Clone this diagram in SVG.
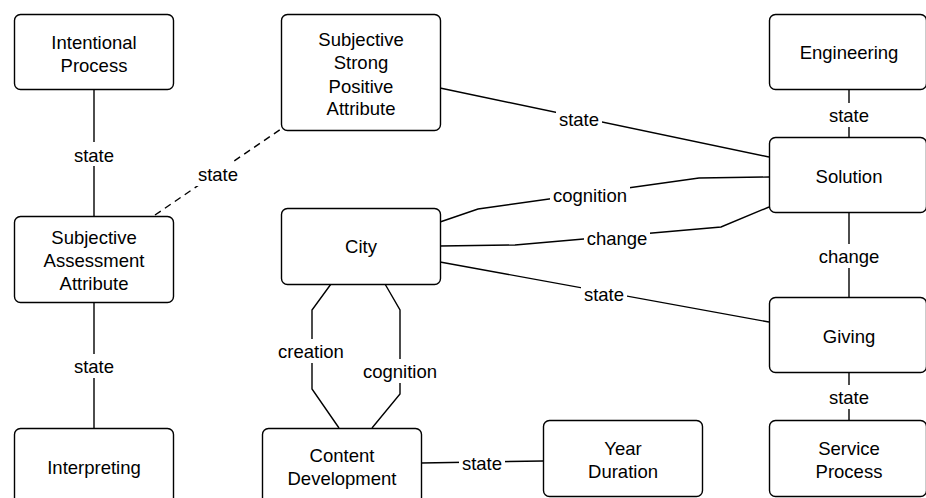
<svg xmlns="http://www.w3.org/2000/svg" width="926" height="498" viewBox="0 0 926 498">
<style>
.node rect{fill:#fff;stroke:#000;stroke-width:1.4}
text{font-family:"Liberation Sans",Arial,sans-serif;font-size:18.5px;fill:#000;text-anchor:middle}
.edge{fill:none;stroke:#000;stroke-width:1.4}
.dash{stroke-dasharray:7 5}
.lbl{fill:#fff;stroke:none}
</style>
<rect width="926" height="498" fill="#fff"/>
<g id="connectors">
  <line class="edge" x1="94" y1="89" x2="94" y2="216"/>
  <line class="edge dash" x1="155" y1="215" x2="281" y2="129"/>
  <line class="edge" x1="440" y1="88" x2="769" y2="157"/>
  <polyline class="edge" points="440,222 478,209 699,178 769,177"/>
  <polyline class="edge" points="440,246 515,245 721,227 769,207"/>
  <line class="edge" x1="440" y1="262" x2="769" y2="322"/>
  <line class="edge" x1="849" y1="89" x2="849" y2="137"/>
  <line class="edge" x1="849" y1="212" x2="849" y2="297"/>
  <line class="edge" x1="849" y1="372" x2="849" y2="420"/>
  <line class="edge" x1="94" y1="302" x2="94" y2="428"/>
  <polyline class="edge" points="331,284 312,310 312,389 339,428"/>
  <polyline class="edge" points="385,284 400,310 400,394 372,428"/>
  <polyline class="edge" points="421,463 543,461"/>
  <g id="labels">
    <rect class="lbl" x="72" y="142" width="44" height="24"/><text x="94" y="162">state</text>
    <rect class="lbl" x="196" y="162" width="44" height="24"/><text x="218" y="181">state</text>
    <rect class="lbl" x="556" y="107" width="46" height="24"/><text x="579" y="126">state</text>
    <rect class="lbl" x="550" y="183" width="80" height="24"/><text x="590" y="202">cognition</text>
    <rect class="lbl" x="584" y="226" width="66" height="24"/><text x="617" y="245">change</text>
    <rect class="lbl" x="581" y="282" width="46" height="24"/><text x="604" y="301">state</text>
    <rect class="lbl" x="827" y="103" width="44" height="24"/><text x="849" y="122">state</text>
    <rect class="lbl" x="814" y="244" width="70" height="24"/><text x="849" y="263">change</text>
    <rect class="lbl" x="827" y="385" width="44" height="24"/><text x="849" y="404">state</text>
    <rect class="lbl" x="72" y="354" width="44" height="24"/><text x="94" y="373">state</text>
    <rect class="lbl" x="276" y="339" width="72" height="24"/><text x="311" y="358">creation</text>
    <rect class="lbl" x="360" y="359" width="80" height="24"/><text x="400" y="378">cognition</text>
    <rect class="lbl" x="459" y="451" width="46" height="24"/><text x="482" y="470">state</text>
  </g>
</g>
<g id="n_intentional" class="node"><rect x="14.5" y="14.5" width="159" height="75" rx="6"/><text x="94" y="48.5">Intentional</text><text x="94" y="71.5">Process</text></g>
<g id="n_sspa" class="node"><rect x="281.5" y="14.5" width="159" height="116" rx="6"/><text x="361" y="45.5">Subjective</text><text x="361" y="68.5">Strong</text><text x="361" y="92.5">Positive</text><text x="361" y="114.5">Attribute</text></g>
<g id="n_saa" class="node"><rect x="14.5" y="216.5" width="159" height="86" rx="6"/><text x="94" y="243.5">Subjective</text><text x="94" y="266.5">Assessment</text><text x="94" y="289.5">Attribute</text></g>
<g id="n_interpreting" class="node"><rect x="14.5" y="428.5" width="159" height="76" rx="6"/><text x="94" y="473.5">Interpreting</text></g>
<g id="n_city" class="node"><rect x="281.5" y="208.5" width="159" height="76" rx="6"/><text x="361" y="252.5">City</text></g>
<g id="n_content" class="node"><rect x="262.5" y="428.5" width="159" height="76" rx="6"/><text x="342" y="461.5">Content</text><text x="342" y="484.5">Development</text></g>
<g id="n_year" class="node"><rect x="543.5" y="420.5" width="159" height="76" rx="6"/><text x="623" y="454.5">Year</text><text x="623" y="477.5">Duration</text></g>
<g id="n_engineering" class="node"><rect x="769.5" y="14.5" width="157" height="75" rx="6"/><text x="849" y="59">Engineering</text></g>
<g id="n_solution" class="node"><rect x="769.5" y="137.5" width="157" height="75" rx="6"/><text x="849" y="182.5">Solution</text></g>
<g id="n_giving" class="node"><rect x="769.5" y="297.5" width="157" height="75" rx="6"/><text x="849" y="342.5">Giving</text></g>
<g id="n_service" class="node"><rect x="769.5" y="420.5" width="157" height="76" rx="6"/><text x="849" y="454.5">Service</text><text x="849" y="477.5">Process</text></g>
</svg>
